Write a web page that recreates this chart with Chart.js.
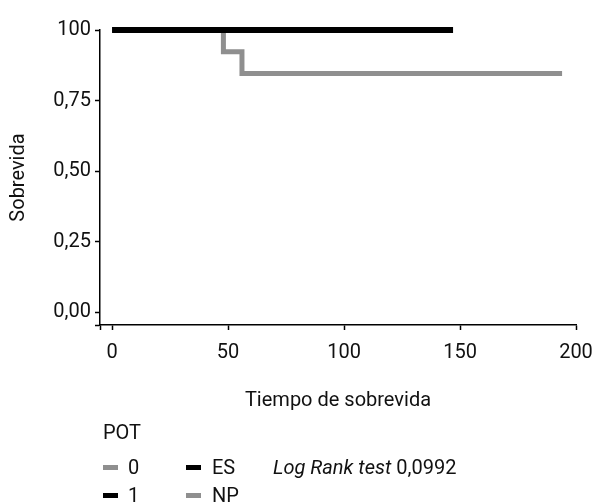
<!DOCTYPE html>
<html>
<head>
<meta charset="utf-8">
<script src="https://cdn.jsdelivr.net/npm/chart.js@4.4.0/dist/chart.umd.min.js"></script>
<style>
  body { margin: 0; background: #fff; }
  #wrap { position: relative; width: 592px; height: 503px; overflow: hidden; font-family: Roboto, "Liberation Sans", sans-serif; color: #111; }
  #chart { position: absolute; left: 0; top: 0; }
  .lg { position: absolute; font-size: 20px; line-height: 20px; white-space: nowrap; }
  .dash { position: absolute; width: 15px; height: 5px; }
</style>
</head>
<body>
<div id="wrap">
  <canvas id="chart" width="592" height="503"></canvas>
  <div class="lg" style="left:103px; top:422px;">POT</div>
  <div class="dash" style="left:103px; top:465px; background:#8f8f8f;"></div>
  <div class="lg" style="left:128px; top:457px;">0</div>
  <div class="dash" style="left:186px; top:465px; background:#000;"></div>
  <div class="lg" style="left:212px; top:457px;">ES</div>
  <div class="lg" style="left:273px; top:457px;"><i>Log Rank test</i> 0,0992</div>
  <div class="dash" style="left:103px; top:493px; background:#000;"></div>
  <div class="lg" style="left:128px; top:485px;">1</div>
  <div class="dash" style="left:186px; top:493px; background:#8f8f8f;"></div>
  <div class="lg" style="left:212px; top:485px;">NP</div>
</div>
<script>
// survival curves (Kaplan-Meier steps)
const times0 = [0, 48, 56, 194];
const surv0 = [1, 0.923, 0.846, 0.846];
const times1 = [0, 147];
const surv1 = [1, 1];

const xTicks = [0, 50, 100, 150, 200];
const yTicks = [0, 0.25, 0.5, 0.75, 1];
const yTickLabels = ['0,00', '0,25', '0,50', '0,75', '100'];

const xMin = -5.2, xMax = 200;
const yMin = -0.046, yMax = 1;

Chart.defaults.font.family = 'Roboto, "Liberation Sans", sans-serif';
Chart.defaults.font.size = 20;
Chart.defaults.color = '#111';

const toPts = (xs, ys) => xs.map((x, i) => ({ x: x, y: ys[i] }));

new Chart(document.getElementById('chart').getContext('2d'), {
  type: 'line',
  data: {
    datasets: [
      {
        label: '1',
        data: toPts(times1, surv1),
        borderColor: '#000',
        borderWidth: 6,
        stepped: 'before',
        pointRadius: 0,
        clip: false,
        order: 0
      },
      {
        label: '0',
        data: toPts(times0, surv0),
        borderColor: '#8f8f8f',
        borderWidth: 5,
        stepped: 'before',
        pointRadius: 0,
        clip: false,
        order: 1
      }
    ]
  },
  options: {
    responsive: false,
    animation: false,
    layout: { padding: { left: 0, top: 30, right: 16, bottom: 86 } },
    plugins: { legend: { display: false }, tooltip: { enabled: false } },
    scales: {
      x: {
        type: 'linear',
        min: xMin,
        max: xMax,
        afterBuildTicks: (s) => { s.ticks = [xMin].concat(xTicks).map(v => ({ value: v })); },
        afterFit: (s) => { s.height = 92; s.paddingRight = 0; },
        ticks: {
          maxRotation: 0,
          padding: 11,
          callback: (v) => (xTicks.includes(v) ? String(v) : '')
        },
        grid: { drawOnChartArea: false, tickLength: 5, color: '#000', tickWidth: 1.5 },
        border: { color: '#000', width: 1.5 },
        title: { display: true, text: 'Tiempo de sobrevida', padding: { top: 25 } }
      },
      y: {
        type: 'linear',
        min: yMin,
        max: yMax,
        afterBuildTicks: (s) => { s.ticks = [yMin].concat(yTicks).map(v => ({ value: v })); },
        afterFit: (s) => { s.width = 100; s.paddingTop = 0; s.paddingBottom = 0; },
        ticks: {
          padding: 4,
          callback: (v) => { const i = yTicks.indexOf(v); return i < 0 ? '' : yTickLabels[i]; }
        },
        grid: { drawOnChartArea: false, tickLength: 5, color: '#000', tickWidth: 1.5 },
        border: { color: '#000', width: 1.5 },
        title: { display: true, text: 'Sobrevida', padding: { bottom: 0, top: 7 } }
      }
    }
  }
});
</script>
</body>
</html>
